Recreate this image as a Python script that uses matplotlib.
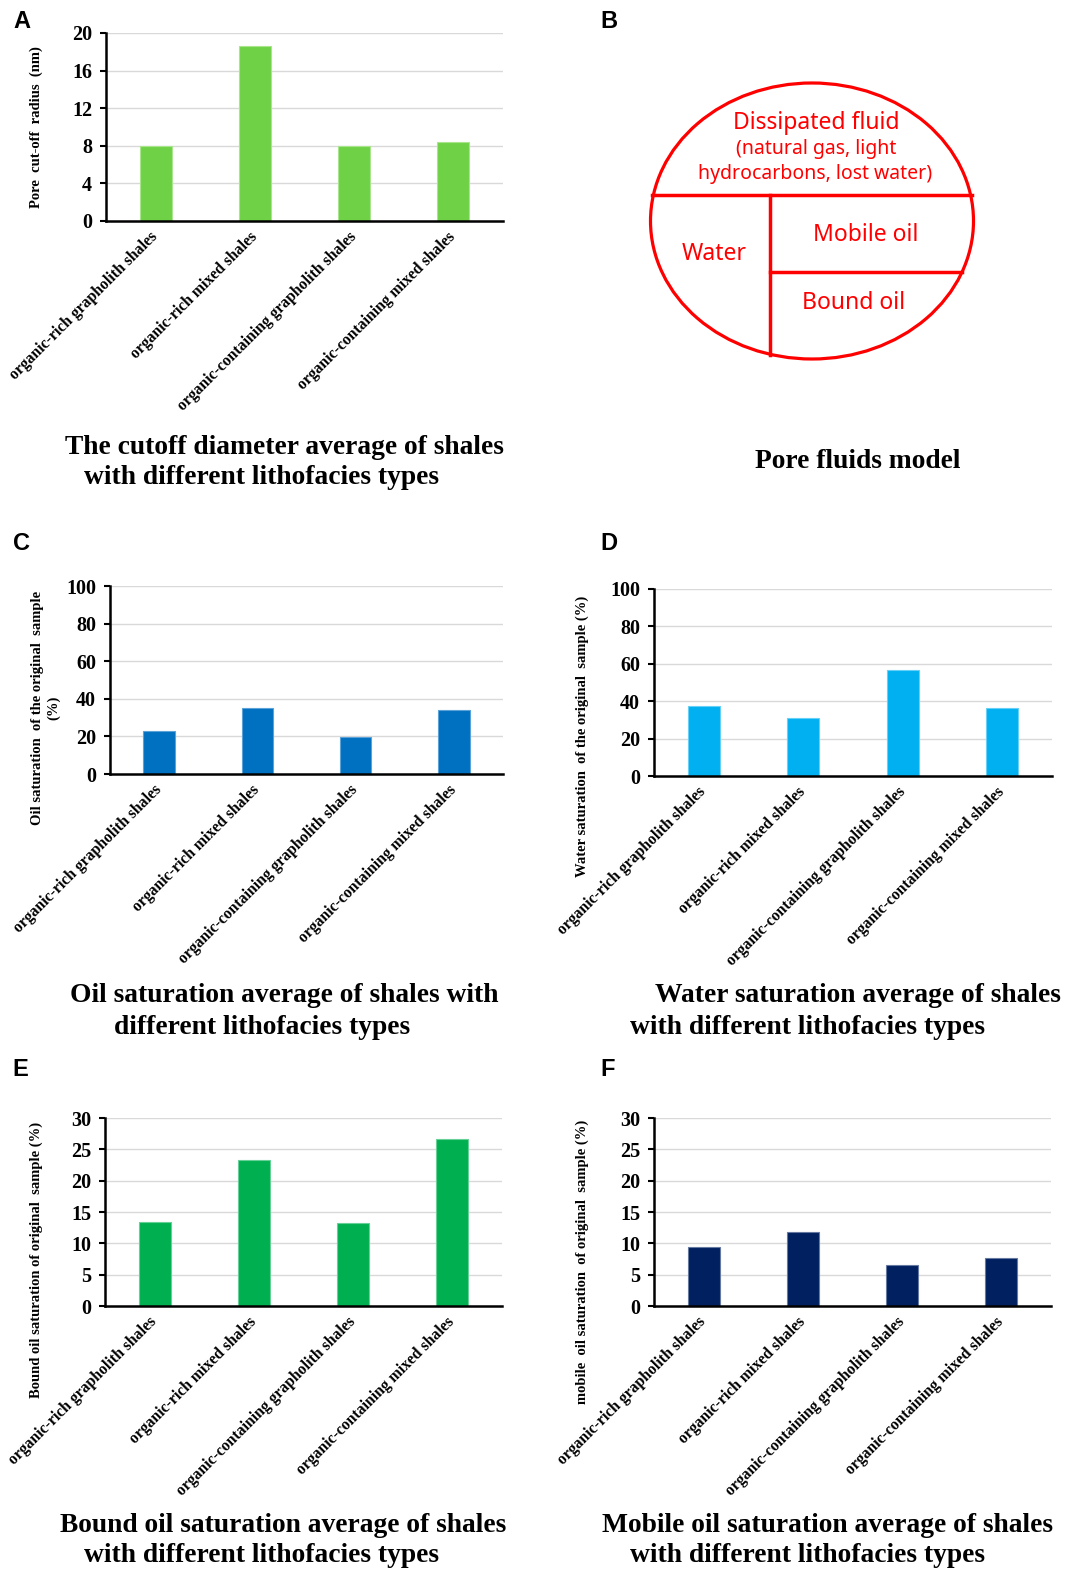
import numpy as np
import matplotlib
matplotlib.use('Agg')
import matplotlib.pyplot as plt
from matplotlib.patches import Ellipse

W, H = 1069, 1577
DPI = 100

categories = ['organic-rich grapholith shales', 'organic-rich mixed shales',
              'organic-containing grapholith shales', 'organic-containing mixed shales']

cutoff_radius = [7.95, 18.65, 8.0, 8.4]
oil_sat = [23.0, 35.0, 19.8, 34.0]
water_sat = [37.3, 31.0, 56.9, 36.2]
bound_oil = [13.45, 23.25, 13.2, 26.6]
mobile_oil = [9.4, 11.76, 6.6, 7.66]

serif = 'Liberation Serif'
sans = 'Liberation Sans'

fig = plt.figure(figsize=(W / DPI, H / DPI), dpi=DPI)


def rect(l, t, r, b):
    return [l / W, 1 - b / H, (r - l) / W, (b - t) / H]


def ftext(x, y, s, **kw):
    fig.text(x / W, 1 - y / H, s, **kw)


def bar_panel(box, values, color, edge, yticks, ylabel, ylab_x, ylab_y):
    ax = fig.add_axes(rect(*box))
    x = np.arange(len(values))
    ax.bar(x, values, width=0.32, color=color, edgecolor=edge, linewidth=0.8, zorder=3)
    ax.set_xlim(-0.5, len(values) - 0.5)
    ax.set_ylim(yticks[0], yticks[-1])
    ax.set_yticks(yticks)
    ax.set_yticklabels([str(t) for t in yticks], fontfamily=serif, fontweight='bold', fontsize=14.5)
    for t in yticks[1:]:
        ax.axhline(t, color='#d9d9d9', lw=1.0, zorder=1)
    ax.set_xticks(x)
    ax.set_xticklabels(categories, rotation=45, ha='right', va='center', rotation_mode='anchor',
                       fontfamily=serif, fontweight='bold', fontsize=11.3)
    ax.tick_params(axis='x', length=0, pad=10)
    ax.tick_params(axis='y', length=4, width=1.5, direction='out', pad=6)
    for s in ['top', 'right']:
        ax.spines[s].set_visible(False)
    for s in ['left', 'bottom']:
        ax.spines[s].set_linewidth(1.8)
    ax.spines['left'].set_zorder(4)
    ax.spines['bottom'].set_zorder(4)
    ftext(ylab_x, ylab_y, ylabel, rotation=90, ha='center', va='center', fontfamily=serif,
          fontweight='bold', fontsize=10.5, linespacing=1.25)
    return ax


# A
bar_panel((106, 33, 503, 221), cutoff_radius, '#6fd146', '#a9e58d', [0, 4, 8, 12, 16, 20],
          'Pore  cut-off  radius  (nm)', 36, 127)
# C
bar_panel((110, 586, 503, 774), oil_sat, '#0070c0', '#5aa2d8', [0, 20, 40, 60, 80, 100],
          'Oil saturation  of the original  sample\n(%)', 46, 708)
# D
bar_panel((654, 589, 1052, 776), water_sat, '#00b0f0', '#66d0f6', [0, 20, 40, 60, 80, 100],
          'Water saturation  of the original  sample (%)', 582, 736)
# E
bar_panel((105, 1118, 502, 1306), bound_oil, '#00b050', '#66d096', [0, 5, 10, 15, 20, 25, 30],
          'Bound oil saturation of original  sample (%)', 36, 1260)
# F
bar_panel((654, 1118, 1051, 1306), mobile_oil, '#002060', '#6679a0', [0, 5, 10, 15, 20, 25, 30],
          'mobile  oil saturation  of original  sample (%)', 582, 1262)

# B: pore fluids schematic, drawn in pixel coordinates
axb = fig.add_axes([0, 0, 1, 1])
axb.set_xlim(0, W)
axb.set_ylim(H, 0)
axb.axis('off')
axb.patch.set_alpha(0)
red = '#ff0000'
axb.add_patch(Ellipse((812, 221), 323, 276, fill=False, edgecolor=red, lw=2.3))
axb.plot([652, 972], [195, 195], color=red, lw=2.5)
axb.plot([770, 770], [195, 355], color=red, lw=2.5)
axb.plot([770, 962], [272, 272], color=red, lw=2.5)
diag = dict(color=red, ha='center', va='center', family='Noto Sans', fontweight='medium')
axb.text(816, 123, 'Dissipated fluid', fontsize=16.5, **diag)
axb.text(816, 149, '(natural gas, light', fontsize=14, **diag)
axb.text(815, 174, 'hydrocarbons, lost water)', fontsize=14, **diag)
axb.text(714, 254, 'Water', fontsize=16.5, **diag)
axb.text(866, 235, 'Mobile oil', fontsize=16.5, **diag)
axb.text(854, 303, 'Bound oil', fontsize=16.5, **diag)

# titles
tt = dict(ha='center', va='center', fontfamily=serif, fontweight='bold', fontsize=19.8)
ftext(284, 447, 'The cutoff diameter average of shales', **tt)
ftext(262, 478, 'with different lithofacies types', **tt)
ftext(858, 462, 'Pore fluids model', **tt)
ftext(284, 996, 'Oil saturation average of shales with', **tt)
ftext(262, 1027, 'different lithofacies types', **tt)
ftext(858, 996, 'Water saturation average of shales', **tt)
ftext(808, 1027, 'with different lithofacies types', **tt)
ftext(283, 1525, 'Bound oil saturation average of shales', **tt)
ftext(261, 1556, 'with different lithofacies types', **tt)
ftext(828, 1525, 'Mobile oil saturation average of shales', **tt)
ftext(808, 1556, 'with different lithofacies types', **tt)

# panel letters
lt = dict(ha='center', va='center', fontfamily=sans, fontweight='bold', fontsize=17)
for letter, x, y in [('A', 22, 21), ('B', 609, 21), ('C', 22, 544), ('D', 609, 544),
                     ('E', 20, 1070), ('F', 608, 1070)]:
    ftext(x, y, letter, **lt)

fig.savefig('out.png', dpi=DPI)
